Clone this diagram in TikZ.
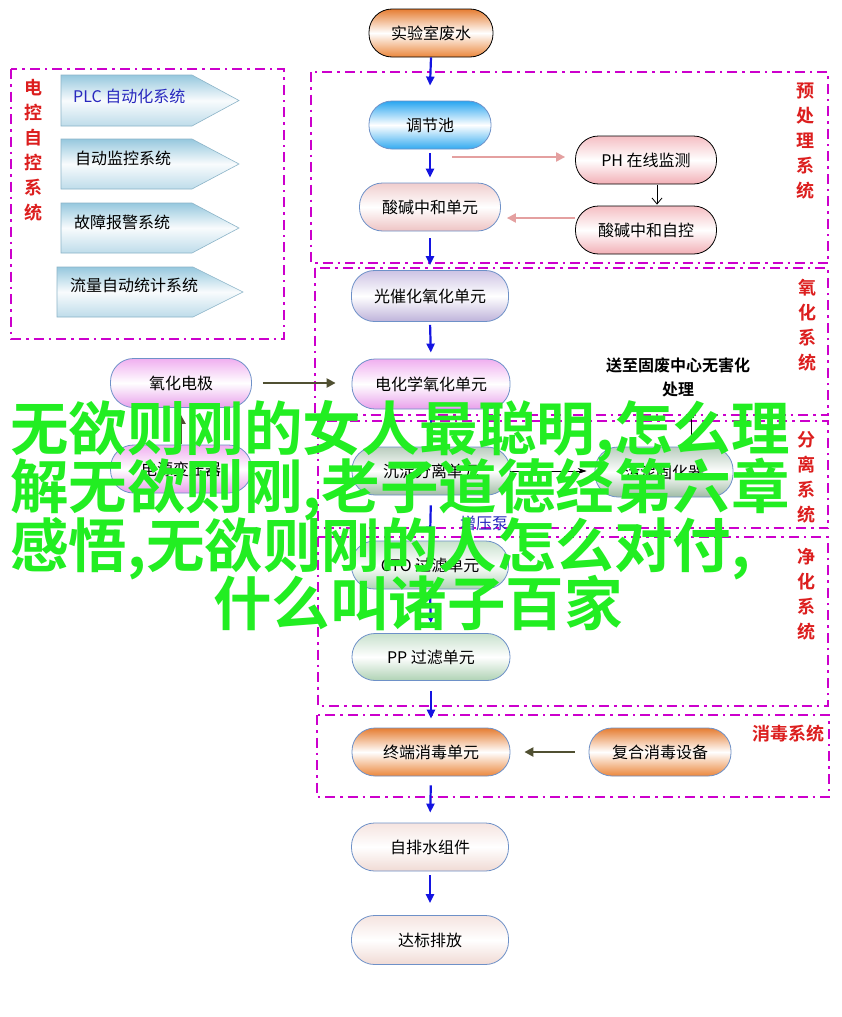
\documentclass[tikz,border=0pt]{standalone}
\usepackage{fontspec}
\setmainfont{Noto Sans CJK SC}[BoldFont={Noto Sans CJK SC Bold}]
\usetikzlibrary{arrows.meta}
\definecolor{sysmag}{RGB}{204,0,204}
\definecolor{sysred}{RGB}{220,30,30}
\definecolor{bordb}{RGB}{110,145,200}
\definecolor{arrblue}{RGB}{20,20,225}
\definecolor{arrpink}{RGB}{228,160,160}
\definecolor{arrolive}{RGB}{80,80,50}
\definecolor{plcblue}{RGB}{40,40,190}
\definecolor{ovgreen}{RGB}{34,238,34}
\definecolor{orgT}{RGB}{230,125,50}
\definecolor{orgB}{RGB}{235,135,60}
\definecolor{cyT}{RGB}{40,165,240}
\definecolor{cyB}{RGB}{50,170,240}
\definecolor{pkT}{RGB}{240,205,205}
\definecolor{pkB}{RGB}{238,195,195}
\definecolor{pk2T}{RGB}{245,190,195}
\definecolor{pk2B}{RGB}{242,175,182}
\definecolor{lvT}{RGB}{205,195,228}
\definecolor{lvB}{RGB}{190,178,218}
\definecolor{mgT}{RGB}{240,175,240}
\definecolor{mgB}{RGB}{232,160,235}
\definecolor{ggT}{RGB}{185,205,190}
\definecolor{ggB}{RGB}{160,188,165}
\definecolor{lgT}{RGB}{200,225,205}
\definecolor{lgB}{RGB}{175,210,180}
\definecolor{peT}{RGB}{245,228,224}
\definecolor{peB}{RGB}{240,218,212}
\definecolor{pbT}{RGB}{150,200,222}
\definecolor{pbB}{RGB}{190,220,234}
\definecolor{pbD}{RGB}{140,180,200}
\tikzset{
  sysbox/.style={draw=sysmag, line width=1.8pt, dash pattern=on 10pt off 5pt on 2.5pt off 5pt},
  proc/.style={draw=bordb, line width=0.8pt, rounded corners=23pt, minimum height=48pt,
    inner sep=0pt, font=\fontsize{16}{18}\selectfont},
  blk/.style={draw=black},
  orangeg/.style={top color=orgT, bottom color=orgB, middle color=white},
  cyang/.style={top color=cyT, bottom color=cyB, middle color=white},
  pinkg/.style={top color=pkT, bottom color=pkB, middle color=white},
  pinkbg/.style={top color=pk2T, bottom color=pk2B, middle color=white},
  lavg/.style={top color=lvT, bottom color=lvB, middle color=white},
  magg/.style={top color=mgT, bottom color=mgB, middle color=white},
  grgrg/.style={top color=ggT, bottom color=ggB, middle color=white},
  lgreeng/.style={top color=lgT, bottom color=lgB, middle color=white},
  peachg/.style={top color=peT, bottom color=peB, middle color=white},
  pentst/.style={draw=pbD, line width=0.6pt, top color=pbT, bottom color=pbB, middle color=white!90!pbB},
  lefttxt/.style={inner sep=0pt, font=\fontsize{16}{18}\selectfont},
  syslabel/.style={text=sysred, inner sep=0pt, align=center, font=\bfseries\fontsize{18}{25}\selectfont},
  bluearr/.style={draw=arrblue, line width=2.2pt, -{Triangle[length=9pt,width=8pt]}},
  pinkarr/.style={draw=arrpink, line width=2pt, -{Triangle[length=9pt,width=9pt]}},
  olivearr/.style={draw=arrolive, line width=2.6pt, -{Triangle[length=9pt,width=9pt]}},
  openarr/.style={draw=black, line width=0.8pt, -{Straight Barb[length=6pt,width=10pt]}},
  thinarr/.style={draw=black, line width=0.8pt, -{Stealth[length=9pt,width=6pt]}},
  overlay/.style={text=ovgreen, inner sep=0pt, font=\bfseries\fontsize{58.5}{58.5}\selectfont},
}
\begin{document}
\begin{tikzpicture}[x=1pt,y=-1pt]
\fill[white] (0,0) rectangle (841,1017);
\useasboundingbox (0,0) rectangle (841,1017);

% system boxes
\draw[sysbox] (11,69) rectangle (284,339);
\draw[sysbox] (311,72) rectangle (828,263);
\draw[sysbox] (315,268) rectangle (828,415);
\draw[sysbox] (318,421) rectangle (828,528);
\draw[sysbox] (318,537) rectangle (828,706);
\draw[sysbox] (317,715) rectangle (829,797);

% left control panel
\path[pentst] (61,75) -- (192,75) -- (239,100.5) -- (192,126) -- (61,126) -- cycle;
\path[pentst] (61,139) -- (192,139) -- (239,164) -- (192,189) -- (61,189) -- cycle;
\path[pentst] (61,203) -- (192,203) -- (239,228) -- (192,253) -- (61,253) -- cycle;
\path[pentst] (57,267) -- (193,267) -- (243,292) -- (193,317) -- (57,317) -- cycle;
\node[lefttxt, anchor=west, text=plcblue] (plc) at (73,96) {PLC 自动化系统};
\node[lefttxt, anchor=west] (jk) at (75,158) {自动监控系统};
\node[lefttxt, anchor=west] (gz) at (74,222) {故障报警系统};
\node[lefttxt, anchor=west] (ll) at (70,285) {流量自动统计系统};

% system labels
\node[syslabel] (l1) at (33,150) {电\\控\\自\\控\\系\\统};
\node[syslabel] (l2) at (805,141) {预\\处\\理\\系\\统};
\node[syslabel] (l3) at (807,325.5) {氧\\化\\系\\统};
\node[syslabel] (l4) at (806,477.5) {分\\离\\系\\统};
\node[syslabel] (l5) at (806,594.5) {净\\化\\系\\统};
\node[syslabel] (l6) at (788,734) {消毒系统};

% process nodes
\node[proc, blk, orangeg, minimum width=124pt] (lab) at (431,33) {实验室废水};
\node[proc, cyang, minimum width=122pt] (tjc) at (430,125) {调节池};
\node[proc, pinkg, minimum width=141pt] (sj) at (430,207) {酸碱中和单元};
\node[proc, blk, pinkbg, minimum width=141pt] (ph) at (646,160) {PH 在线监测};
\node[proc, blk, pinkbg, minimum width=141pt] (zk) at (646,230) {酸碱中和自控};
\node[proc, lavg, minimum width=157pt, minimum height=51pt] (gch) at (430,296) {光催化氧化单元};
\node[proc, magg, minimum width=141pt, minimum height=49pt] (yhd) at (181,383) {氧化电极};
\node[proc, magg, minimum width=158pt, minimum height=50pt] (dhx) at (431,384) {电化学氧化单元};
\node[proc, magg, minimum width=141pt] (dyb) at (181,469) {电源变压器};
\node[proc, grgrg, minimum width=158pt] (cd) at (431,471) {沉淀分离单元};
\node[proc, grgrg, minimum width=138pt, minimum height=50pt] (wn) at (664,472) {污泥固化器};
\node[proc, lgreeng, minimum width=157pt] (cto) at (430,565) {CTO 过滤单元};
\node[proc, lgreeng, minimum width=158pt, minimum height=47pt] (pp) at (431,657) {PP 过滤单元};
\node[proc, orangeg, minimum width=158pt] (zd) at (431,752) {终端消毒单元};
\node[proc, orangeg, minimum width=142pt] (fh) at (660,752) {复合消毒设备};
\node[proc, peachg, minimum width=157pt] (zp) at (430,847) {自排水组件};
\node[proc, peachg, minimum width=157pt, minimum height=49pt] (db) at (430,940) {达标排放};

% free texts
\node[inner sep=0pt, align=center, font=\bfseries\fontsize{16}{24}\selectfont] (sz) at (678,377) {送至固废中心无害化\\处理};
\node[inner sep=0pt, text=plcblue, font=\fontsize{16}{18}\selectfont] (zyb) at (484,523) {增压泵};

% main flow arrows
\draw[bluearr] (lab.south) -- ([yshift=15pt]tjc.north);
\draw[bluearr, shorten <=4pt, shorten >=5pt] (tjc.south) -- (sj.north);
\draw[bluearr, shorten <=7pt, shorten >=5pt] (sj.south) -- (gch.north);
\draw[bluearr, shorten <=3pt, shorten >=6pt] (gch.south) -- (dhx.north);
\draw[bluearr, shorten <=3pt, shorten >=7pt] (dhx.south) -- (cd.north);
\draw[bluearr, shorten <=10pt, shorten >=5pt] (cd.south) -- (cto.north);
\draw[bluearr, shorten <=3pt, shorten >=10pt] (cto.south) -- (pp.north);
\draw[bluearr, shorten <=10pt, shorten >=9pt] (pp.south) -- (zd.north);
\draw[bluearr, shorten <=9pt, shorten >=10pt] (zd.south) -- (zp.north);
\draw[bluearr, shorten <=4pt, shorten >=12pt] (zp.south) -- (db.north);

% pre-treatment side arrows
\coordinate (pa) at (452,157);
\draw[pinkarr] (pa) -- ([xshift=-10pt]ph.west |- pa);
\draw[pinkarr, shorten >=6pt] ([yshift=12pt]zk.west) -- ([yshift=12pt]zk.west -| sj.east);
\draw[openarr, shorten <=1pt, shorten >=1pt] ([xshift=11pt]ph.south) -- ([xshift=11pt]zk.north);

% oxidation side arrows
\draw[olivearr, shorten <=11pt, shorten >=16pt] (yhd.east) -- (dhx.west |- yhd.east);
\draw[olivearr, shorten <=1pt, shorten >=7pt] (dyb.north) -- (yhd.south);

% separation side arrows
\draw[thinarr, shorten >=8pt] (cd.east) -- (wn.west |- cd.east);
\coordinate (szt) at (691,409);
\draw[thinarr] (wn.north -| szt) -- (szt);

% disinfection side arrow
\draw[olivearr, shorten <=14pt, shorten >=14pt] (fh.west) -- (zd.east);

% overlay text
\node[overlay, anchor=base west] (ov1) at (10,450) {无欲则刚的女人最聪明,怎么理};
\node[overlay, anchor=base west] (ov2) at (10,508.5) {解无欲则刚,老子道德经第六章};
\node[overlay, anchor=base west] (ov3) at (10,567) {感悟,无欲则刚的人怎么对付,};
\node[overlay, anchor=base] (ov4) at (418,625.5) {什么叫诸子百家};
\end{tikzpicture}
\end{document}
